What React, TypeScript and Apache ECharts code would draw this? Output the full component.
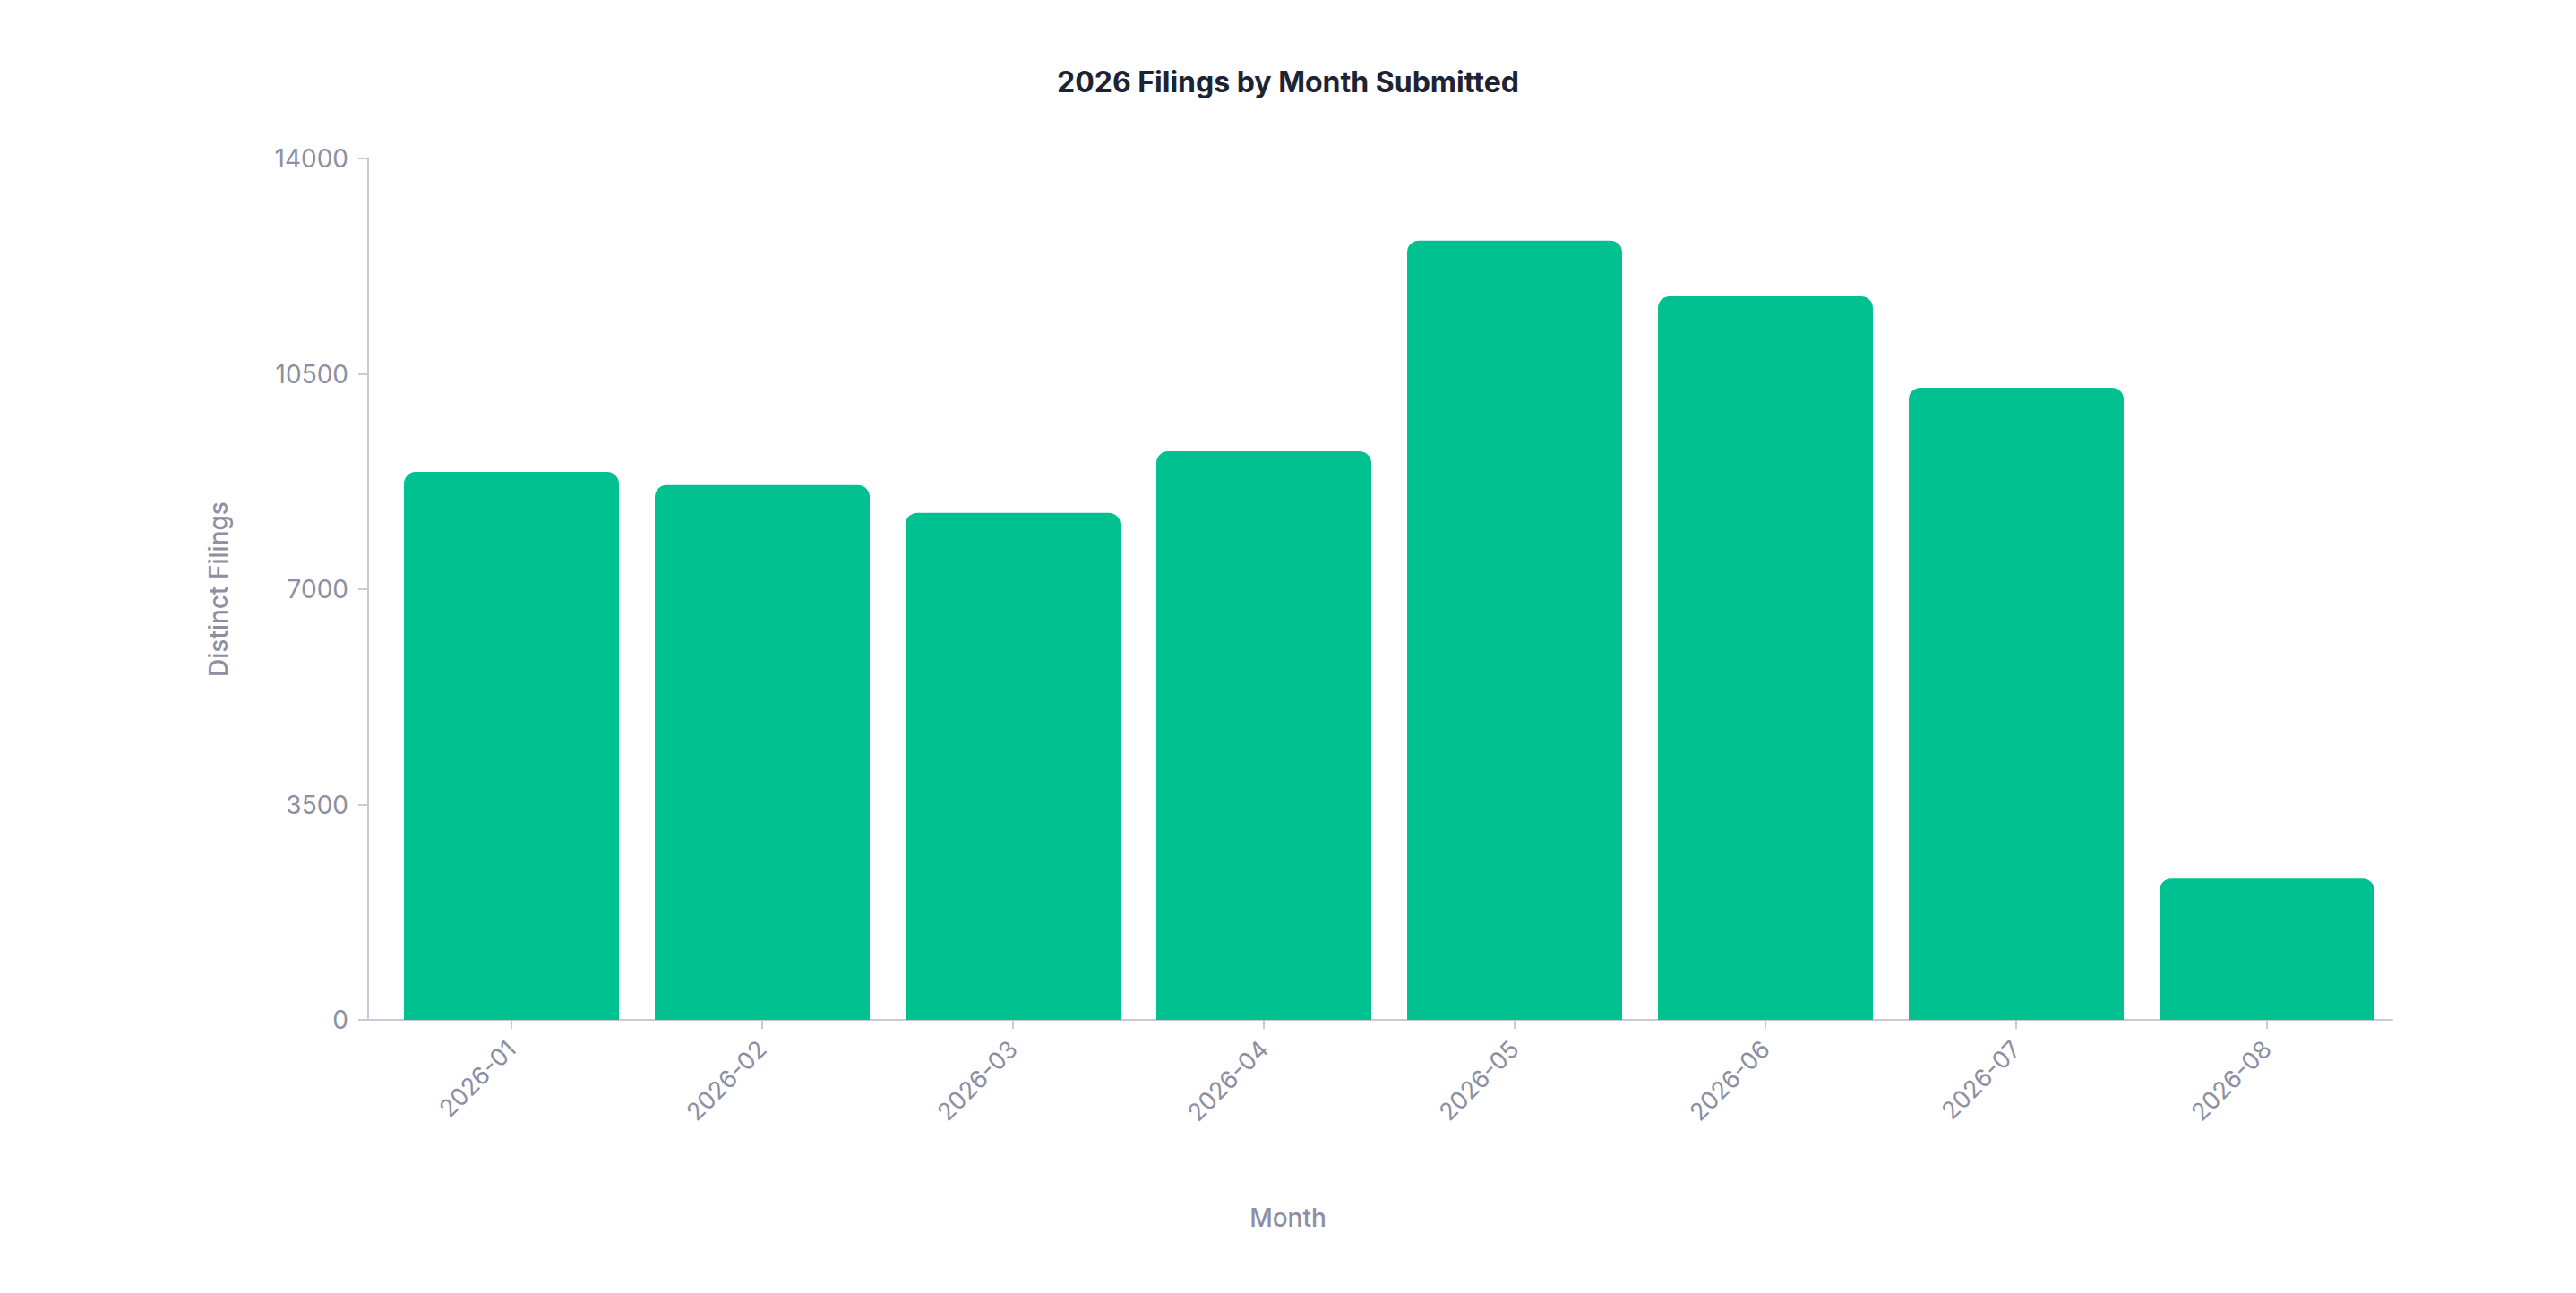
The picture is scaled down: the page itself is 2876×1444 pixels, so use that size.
import React, { useEffect, useRef } from "react";
import * as echarts from "echarts";

const months = ["2026-01", "2026-02", "2026-03", "2026-04", "2026-05", "2026-06", "2026-07", "2026-08"];
const filings = [8905, 8690, 8240, 9240, 12665, 11760, 10275, 2295];
const yTicks = { min: 0, max: 14000, interval: 3500 };

const FONT = "Inter, 'Noto Sans', sans-serif";
const AXIS_COLOR = "#c9cad8";
const LABEL_COLOR = "#8d8fa3";

export default function App() {
  const ref = useRef<HTMLDivElement>(null);
  useEffect(() => {
    document.body.style.margin = "0";
    const chart = echarts.init(ref.current!, null, { renderer: "svg" });
    const gridLeft = 431;
    const gridBottom = 305;
    chart.setOption({
      animation: false,
      backgroundColor: "#ffffff",
      title: {
        text: "2026 Filings by Month Submitted",
        left: "center",
        top: 70,
        textStyle: { fontFamily: FONT, fontSize: 32, fontWeight: 700, color: "#1e2333" },
      },
      grid: { left: gridLeft, right: 205, top: 177, bottom: gridBottom },
      xAxis: {
        type: "category",
        data: months,
        axisLine: { show: true, lineStyle: { color: AXIS_COLOR, width: 2 } },
        axisTick: { show: true, alignWithLabel: true, length: 10, lineStyle: { color: AXIS_COLOR, width: 2 } },
        axisLabel: {
          rotate: 45,
          margin: 28,
          fontFamily: FONT,
          fontSize: 27,
          color: LABEL_COLOR,
        },
      },
      yAxis: {
        type: "value",
        min: yTicks.min,
        max: yTicks.max,
        interval: yTicks.interval,
        offset: 20,
        name: "Distinct Filings",
        nameLocation: "middle",
        nameGap: 153,
        nameTextStyle: { fontFamily: FONT, fontSize: 28, color: LABEL_COLOR, fontWeight: 500 },
        axisLine: { show: true, lineStyle: { color: AXIS_COLOR, width: 2 } },
        axisTick: { show: true, length: 11, lineStyle: { color: AXIS_COLOR, width: 2 } },
        splitLine: { show: false },
        axisLabel: {
          margin: 22,
          fontFamily: FONT,
          fontSize: 28,
          color: LABEL_COLOR,
          formatter: (v: number) => String(v),
        },
      },
      graphic: [
        {
          type: "line",
          shape: { x1: gridLeft - 20, y1: 1444 - gridBottom, x2: gridLeft, y2: 1444 - gridBottom },
          style: { stroke: AXIS_COLOR, lineWidth: 2 },
          z: 10,
        },
        {
          type: "text",
          left: "center",
          top: 1346,
          style: { text: "Month", fontFamily: FONT, fontSize: 28, fontWeight: 500, fill: LABEL_COLOR },
        },
      ],
      series: [
        {
          type: "bar",
          data: filings,
          barWidth: "85.7%",
          itemStyle: { color: "#02c190", borderRadius: [13, 13, 0, 0] },
        },
      ],
    });
    return () => chart.dispose();
  }, []);
  return <div ref={ref} style={{ width: 2876, height: 1444 }} />;
}
